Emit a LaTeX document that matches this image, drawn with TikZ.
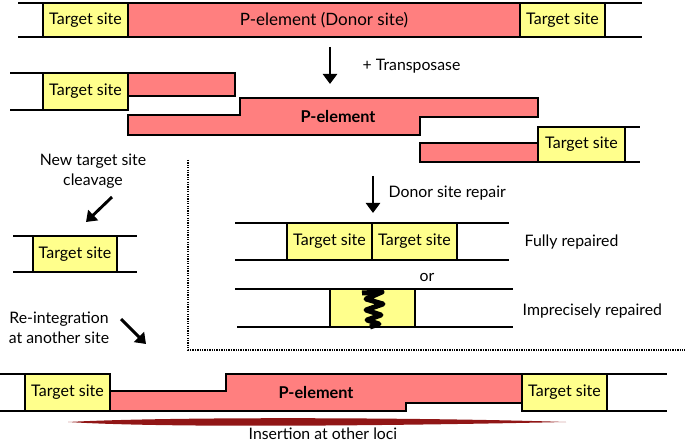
\documentclass[tikz,border=0pt]{standalone}
\usepackage{fontspec}
\setmainfont{Lato}
\usetikzlibrary{arrows.meta}
\definecolor{ypale}{RGB}{255,255,140}
\definecolor{pinkel}{RGB}{255,127,127}
\definecolor{brush}{RGB}{145,22,22}
\begin{document}
\begin{tikzpicture}[x=1pt,y=-1pt, line width=1.4pt,
  site/.style={draw=black, fill=ypale, inner sep=0pt, font=\fontsize{16}{16}\selectfont},
  elem/.style={draw=black, fill=pinkel, inner sep=0pt, font=\fontsize{17}{17}\selectfont},
  strand/.style={draw=black, line width=1.4pt},
  bigarrow/.style={line width=2.9pt, -{Triangle[width=14pt,length=10pt]}},
  lbl/.style={inner sep=0pt, font=\fontsize{15.8}{20}\selectfont},
  belbl/.style={inner sep=0pt, font=\fontsize{16.3}{16}\selectfont\bfseries},
  sep/.style={line width=1.3pt, dash pattern=on 1.3pt off 1.1pt}]
\useasboundingbox (0,0) rectangle (685,443);

% Row 1: donor site
\draw[strand] (18,3) -- (642,3);
\draw[strand] (18,37) -- (642,37);
\node[site, minimum width=85, minimum height=34] (t1l) at (85.5,20) {Target site};
\node[elem, minimum width=392, minimum height=34] (p1) at (324,20) {P-element (Donor site)};
\node[site, minimum width=85, minimum height=34] (t1r) at (562.5,20) {Target site};

% Arrow + Transposase
\coordinate (a1s) at (330,47);
\coordinate (a1e) at (330,84);
\draw[bigarrow] (a1s) -- (a1e);
\node[lbl, anchor=west] (trans) at (362,66) {+ Transposase};

% Row 2: excision
\draw[strand] (10,73) -- (43,73);
\draw[strand] (10,110) -- (43,110);
\node[elem, minimum width=107, minimum height=23] (p2a) at (181.5,84.5) {};
\node[site, minimum width=85, minimum height=37] (t2l) at (85.5,91.5) {Target site};
\draw[elem] (128,115) -- (240,115) -- (240,98) -- (538,98) -- (538,117) -- (420,117) -- (420,135) -- (128,135) -- cycle;
\node[belbl] (p2) at (338,117) {P-element};
\node[elem, minimum width=118, minimum height=19] (p2c) at (479,152.5) {};
\draw[strand] (538,127) -- (640,127);
\draw[strand] (538,162) -- (640,162);
\node[site, minimum width=87, minimum height=35] (t2r) at (581.5,144.5) {Target site};

% Left column: new target site
\node[lbl, align=center] (newt) at (93,171) {New target site\\cleavage};
\coordinate (a2s) at (112,197);
\coordinate (a2e) at (86,222);
\draw[bigarrow] (a2s) -- (a2e);
\draw[strand] (13,236) -- (137,236);
\draw[strand] (13,272) -- (137,272);
\node[site, minimum width=84, minimum height=36] (t3) at (75,254) {Target site};
\node[lbl, align=center] (reint) at (59,328) {Re-integration\\at another site};
\coordinate (a3s) at (121,319);
\coordinate (a3e) at (146,344);
\draw[bigarrow] (a3s) -- (a3e);

% Dotted separator
\coordinate (d1) at (188,160);
\coordinate (d2) at (188,350);
\coordinate (d3) at (685,350);
\draw[sep] (d1) -- (d2) -- (d3);

% Donor site repair
\coordinate (a4s) at (373,176);
\coordinate (a4e) at (373,213);
\draw[bigarrow] (a4s) -- (a4e);
\node[lbl, anchor=west] (dsr) at (388,193) {Donor site repair};

% Fully repaired
\draw[strand] (235,223) -- (509,223);
\draw[strand] (235,260) -- (509,260);
\node[site, minimum width=85, minimum height=37] (f1) at (329.5,241.5) {Target site};
\node[site, minimum width=85, minimum height=37] (f2) at (414.5,241.5) {Target site};
\node[lbl, anchor=west] (fully) at (524,242) {Fully repaired};
\node[lbl] (or) at (427,277) {or};

% Imprecisely repaired
\draw[strand] (235,289) -- (513,289);
\draw[strand] (237,327) -- (513,327);
\node[site, minimum width=85, minimum height=38] (im) at (372.5,308) {};
\draw[line width=5pt, line join=round, line cap=butt] (362,293) -- (382,292) -- (366,299) -- (383,304) -- (366,310) -- (381,315) -- (367,320) -- (379,324) -- (370,327);
\node[lbl, anchor=west] (impr) at (522,311) {Imprecisely repaired};

% Bottom row: insertion
\draw[strand] (0,374) -- (25,374);
\draw[strand] (0,411) -- (25,411);
\draw[elem] (110,391) -- (226,391) -- (226,374) -- (522,374) -- (522,403) -- (406,403) -- (406,411) -- (110,411) -- cycle;
\node[belbl] (p3) at (316,393) {P-element};
\node[site, minimum width=85, minimum height=37] (t4l) at (67.5,392.5) {Target site};
\draw[strand] (607,374) -- (667,374);
\draw[strand] (607,411) -- (667,411);
\node[site, minimum width=85, minimum height=37] (t4r) at (564.5,392.5) {Target site};

% Brush stroke and caption
\fill[brush] (68,422) .. controls (180,416) and (450,418) .. (566,422) .. controls (450,424.5) and (180,429) .. (68,422) -- cycle;
\node[lbl] (ins) at (323,433.5) {Insertion at other loci};
\end{tikzpicture}
\end{document}
